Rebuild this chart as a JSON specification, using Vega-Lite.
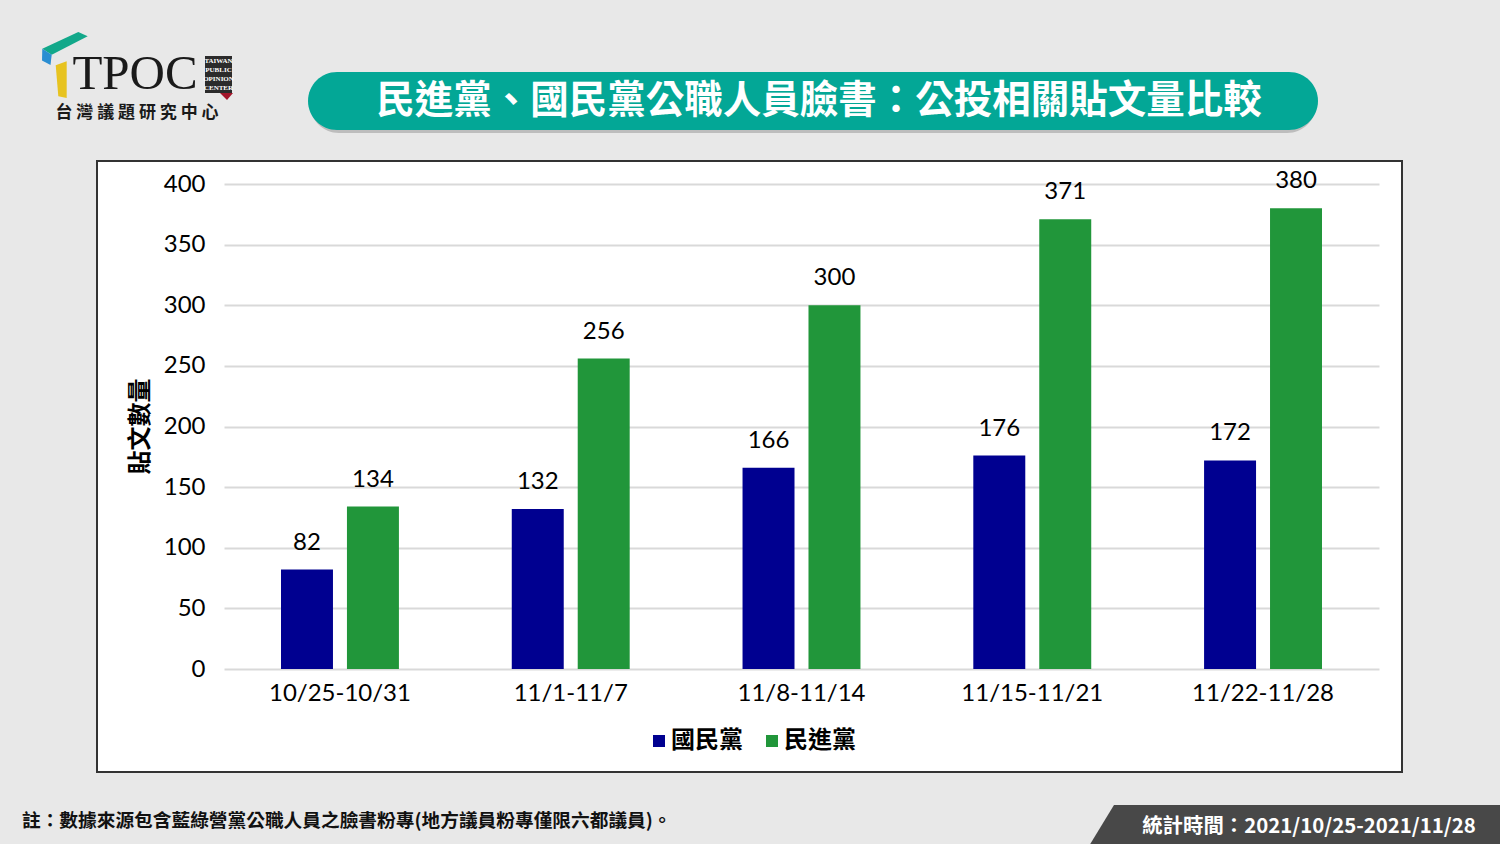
{
  "$schema": "https://vega.github.io/schema/vega-lite/v6.json",
  "background": "#e8e8e8",
  "padding": 0,
  "spacing": 0,
  "center": true,
  "config": {"view": {"stroke": null}},
  "vconcat": [
    {
      "width": 1500,
      "height": 160,
      "view": {"stroke": null, "fill": null},
      "data": {"values": [{}]},
      "layer": [
        {"mark": {"type": "point", "filled": true, "size": 4, "strokeWidth": 0, "fill": "#6e6e6e", "opacity": 0.35,
          "shape": "M -411 -5 L 537 -5 A 29 29 0 0 1 537 53 L -411 53 A 29 29 0 0 1 -411 -5 Z"}},
        {"mark": {"type": "point", "filled": true, "size": 4, "strokeWidth": 0, "fill": "#03a796", "opacity": 1,
          "shape": "M -413 -8 L 539 -8 A 29 29 0 0 1 539 50 L -413 50 A 29 29 0 0 1 -413 -8 Z"}},
        {"mark": {"type": "text", "text": "民進黨、國民黨公職人員臉書：公投相關貼文量比較", "font": "Noto Sans CJK TC", "fontSize": 38.5, "fontWeight": "bold", "fill": "#ffffff", "align": "center", "baseline": "middle", "dx": 69, "dy": 21}},
        {"mark": {"type": "point", "filled": true, "size": 4, "strokeWidth": 0, "fill": "#12a88a", "opacity": 1,
          "shape": "M -707.7 -31.3 L -671.7 -48 L -662.3 -43.7 L -698.3 -25.3 Z"}},
        {"mark": {"type": "point", "filled": true, "size": 4, "strokeWidth": 0, "fill": "#2a8ed2", "opacity": 1,
          "shape": "M -707.7 -31.3 L -698.3 -25.3 L -699.5 -15 L -708 -19.5 Z"}},
        {"mark": {"type": "point", "filled": true, "size": 4, "strokeWidth": 0, "fill": "#e7c320", "opacity": 1,
          "shape": "M -694.3 -14.7 L -683.3 -18.7 L -683.3 18 L -691.7 16.3 Z"}},
        {"mark": {"type": "text", "text": "TPOC", "font": "Liberation Serif", "fontSize": 49, "fill": "#1a1a1a", "align": "center", "baseline": "alphabetic", "dx": -615, "dy": 9}},
        {"mark": {"type": "text", "text": "台 灣 議 題 研 究 中 心", "font": "Noto Sans CJK TC", "fontSize": 17, "fontWeight": "bold", "fill": "#1a1a1a", "align": "center", "baseline": "middle", "dx": -613, "dy": 33}},
        {"mark": {"type": "point", "filled": true, "size": 4, "strokeWidth": 0, "fill": "#2b2b2b", "opacity": 1,
          "shape": "M -545 -24 L -518 -24 L -518 13 L -545 13 Z"}},
        {"mark": {"type": "point", "filled": true, "size": 4, "strokeWidth": 0, "fill": "#a3152a", "opacity": 1,
          "shape": "M -530 13 L -517 13 L -523 20 Z"}},
        {"mark": {"type": "text", "text": ["TAIWAN", "PUBLIC", "OPINION", "CENTER"], "lineHeight": 9, "font": "Liberation Serif", "fontSize": 7, "fontWeight": "bold", "fill": "#ffffff", "align": "center", "baseline": "top", "dx": -531.5, "dy": -23}}
      ]
    },
    {
      "width": 1305,
      "height": 611,
      "view": {"fill": "#ffffff", "stroke": "#333333", "strokeWidth": 2},
      "data": {"values": [
        {"week": "10/25-10/31", "party": "國民黨", "posts": 82},
        {"week": "10/25-10/31", "party": "民進黨", "posts": 134},
        {"week": "11/1-11/7", "party": "國民黨", "posts": 132},
        {"week": "11/1-11/7", "party": "民進黨", "posts": 256},
        {"week": "11/8-11/14", "party": "國民黨", "posts": 166},
        {"week": "11/8-11/14", "party": "民進黨", "posts": 300},
        {"week": "11/15-11/21", "party": "國民黨", "posts": 176},
        {"week": "11/15-11/21", "party": "民進黨", "posts": 371},
        {"week": "11/22-11/28", "party": "國民黨", "posts": 172},
        {"week": "11/22-11/28", "party": "民進黨", "posts": 380}
      ]},
      "encoding": {
        "x": {"field": "week", "type": "nominal", "sort": null,
          "scale": {"range": [127, 1282], "paddingInner": 0.489, "paddingOuter": 0.247},
          "axis": {"orient": "bottom", "offset": -103, "domain": false, "ticks": false, "tickSize": 0, "labelPadding": 12, "labelAngle": 0,
            "labelFont": "Lato", "labelFontSize": 24, "labelColor": "#000000", "title": null}},
        "xOffset": {"field": "party", "type": "nominal", "sort": ["國民黨", "民進黨"],
          "scale": {"paddingInner": 0.212, "paddingOuter": 0}},
        "y": {"field": "posts", "type": "quantitative",
          "scale": {"domain": [0, 400], "range": [508, 23], "nice": false, "zero": true},
          "axis": {"orient": "left", "offset": -127, "values": [0, 50, 100, 150, 200, 250, 300, 350, 400],
            "domain": false, "ticks": false, "tickSize": 0, "labelPadding": 19,
            "grid": true, "gridColor": "#d9d9d9", "gridWidth": 2,
            "labelFont": "Lato", "labelFontSize": 24, "labelColor": "#000000",
            "title": "貼文數量", "titleFont": "Noto Sans CJK TC", "titleFontSize": 24, "titleFontWeight": "bold", "titleColor": "#000000",
            "titleX": -84, "titleY": 265, "titleAngle": 270, "titleAlign": "center", "titleBaseline": "middle"}}
      },
      "layer": [
        {"mark": {"type": "bar"},
          "encoding": {"color": {"field": "party", "type": "nominal",
            "scale": {"domain": ["國民黨", "民進黨"], "range": ["#000090", "#21963a"]},
            "legend": {"orient": "none", "legendX": 647, "legendY": 729, "direction": "horizontal", "title": null,
              "symbolType": "square", "symbolSize": 144, "symbolStrokeWidth": 0, "labelFont": "Noto Sans CJK TC", "labelFontSize": 24,
              "labelFontWeight": "bold", "labelColor": "#000000", "labelOffset": 0, "columnPadding": 17, "padding": 0}}}},
        {"mark": {"type": "text", "dy": -27, "baseline": "middle", "align": "center", "font": "Lato", "fontSize": 24, "fill": "#000000"},
          "encoding": {"text": {"field": "posts", "type": "quantitative"}}}
      ]
    },
    {
      "width": 1500,
      "height": 73,
      "view": {"stroke": null, "fill": null},
      "data": {"values": [{}]},
      "layer": [
        {"mark": {"type": "text", "text": "註：數據來源包含藍綠營黨公職人員之臉書粉專(地方議員粉專僅限六都議員)。", "font": "Noto Sans CJK TC", "fontSize": 18.7, "fontWeight": "bold", "fill": "#111111", "align": "left", "baseline": "middle", "dx": -728, "dy": 11.5}},
        {"mark": {"type": "point", "filled": true, "size": 4, "strokeWidth": 0, "fill": "#484848", "opacity": 1,
          "shape": "M 364 -4.5 L 750 -4.5 L 750 36.5 L 339 36.5 Z"}},
        {"mark": {"type": "text", "text": "統計時間：2021/10/25-2021/11/28", "font": "Noto Sans CJK TC", "fontSize": 20.4, "fontWeight": "bold", "fill": "#ffffff", "align": "center", "baseline": "middle", "dx": 559, "dy": 17.5}}
      ]
    }
  ]
}
